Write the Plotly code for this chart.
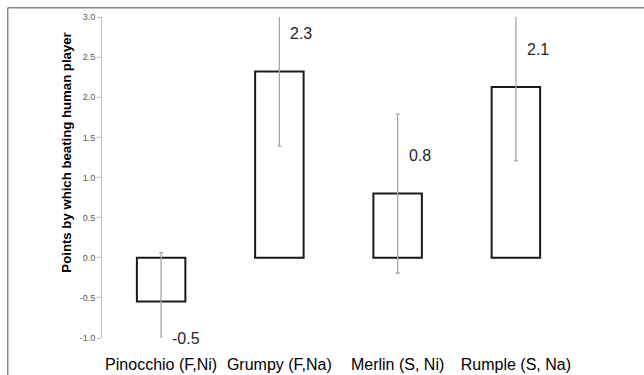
import plotly.graph_objects as go

categories = ["Pinocchio (F,Ni)", "Grumpy (F,Na)", "Merlin (S, Ni)", "Rumple (S, Na)"]
values = [-0.545, 2.32, 0.80, 2.127]
errors = [0.61, 0.93, 0.99, 0.92]
labels = ["-0.5", "2.3", "0.8", "2.1"]
y_tickvals = [-1.0, -0.5, 0.0, 0.5, 1.0, 1.5, 2.0, 2.5, 3.0]
y_ticktext = ["-1.0", "-0.5", "0.0", "0.5", "1.0", "1.5", "2.0", "2.5", "3.0"]
y_title = "Points by which beating human player"

W, H = 644, 375
L, R, T, B = 101.7, 68.7, 16.5, 37.0
pw, ph = W - L - R, H - T - B

def px_x(px):
    return (px - L) / pw

def px_y(py):
    return (H - B - py) / ph

fig = go.Figure()
fig.add_trace(go.Bar(
    x=categories, y=values,
    marker=dict(color="white", line=dict(color="#1a1a1a", width=2)),
    error_y=dict(type="data", array=errors, visible=True,
                 color="#a6a6a6", thickness=1.3, width=2),
    showlegend=False, hoverinfo="skip",
))

ann = []
for c, v, t in zip(categories, values, labels):
    ann.append(dict(x=c, y=v, xref="x", yref="y", text=t, showarrow=False,
                    xanchor="left", yanchor="middle", xshift=9,
                    yshift=38 if v >= 0 else -37,
                    font=dict(family="Liberation Sans", size=16, color="#262626")))
ann.append(dict(x=px_x(66), y=px_y(152), xref="paper", yref="paper",
                text="<b>" + y_title + "</b>", textangle=-90, showarrow=False,
                xanchor="center", yanchor="middle",
                font=dict(family="Liberation Sans", size=13.2, color="#000000")))

fig.update_layout(
    width=W, height=H,
    margin=dict(l=L, r=R, t=T, b=B, pad=0, autoexpand=False),
    paper_bgcolor="white", plot_bgcolor="white",
    bargap=0.59,
    annotations=ann,
    xaxis=dict(type="category", showline=False, showgrid=False, zeroline=False,
               ticks="", tickfont=dict(family="Liberation Sans", size=16, color="#000000"),
               ticklabelstandoff=15, range=[-0.5, 3.5], automargin=False),
    xaxis2=dict(overlaying="x", anchor="free", position=0.25, range=[-0.5, 3.5],
                showline=True, linecolor="#bfbfbf", linewidth=1,
                ticks="outside", ticklen=5, tickcolor="#bfbfbf", tickwidth=1,
                tickvals=[-0.5, 0.5, 1.5, 2.5, 3.5], showticklabels=False,
                showgrid=False, zeroline=False),
    yaxis=dict(range=[-1, 3], tickvals=y_tickvals, ticktext=y_ticktext, showgrid=False,
               zeroline=False, showline=True, linecolor="#bfbfbf", linewidth=1,
               ticks="outside", ticklen=4, tickcolor="#bfbfbf", automargin=False,
               tickfont=dict(family="Liberation Sans", size=9, color="#595959")),
    shapes=[
        dict(type="line", xref="paper", yref="paper", x0=px_x(7.3), x1=px_x(W + 5),
             y0=px_y(7.3), y1=px_y(7.3), line=dict(color="#888888", width=1.5)),
        dict(type="line", xref="paper", yref="paper", x0=px_x(7.3), x1=px_x(7.3),
             y0=px_y(7.3), y1=px_y(H + 5), line=dict(color="#888888", width=1.5)),
    ],
)

fig.write_html("out.html", config={"displayModeBar": False},
               post_script="document.body.style.margin='0';")
